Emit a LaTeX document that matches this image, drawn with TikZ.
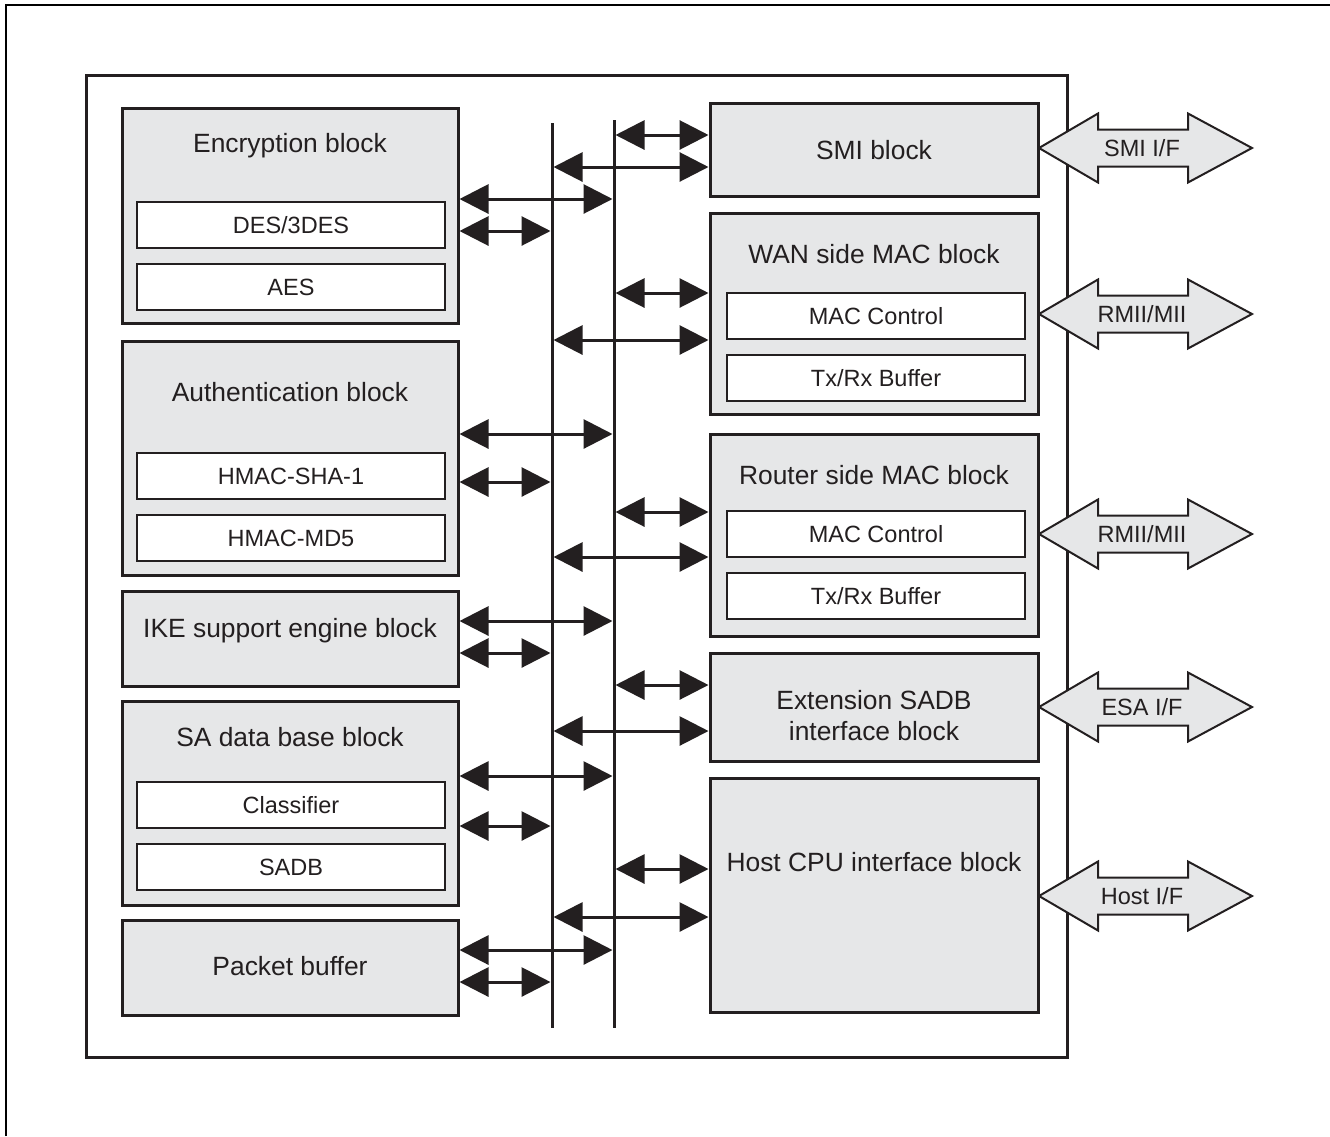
\documentclass[tikz,border=0pt]{standalone}
\usepackage{fontspec}
\setmainfont{Liberation Sans}
\usetikzlibrary{arrows.meta}
\definecolor{blockgray}{RGB}{230,231,232}
\definecolor{inkblack}{RGB}{35,31,32}
\tikzset{
    block/.style={
        draw=inkblack,
        line width=3pt,
        fill=blockgray,
        anchor=north west,
        inner sep=0pt,
        xshift=-1.5pt, yshift=1.5pt,
        minimum width=336pt
    },
    rblock/.style={block, minimum width=328pt},
    % sub-blocks inside the big blocks
    subblock/.style={
        draw=inkblack,
        line width=2.6pt,
        fill=white,
        anchor=north west,
        inner sep=0pt,
        xshift=-1.3pt, yshift=1.3pt,
        minimum width=308pt,
        minimum height=46pt,
        text=inkblack,
        font=\fontsize{23.5}{27}\selectfont
    },
    rsubblock/.style={subblock, minimum width=298pt},
    title/.style={
        text=inkblack,
        align=center,
        inner sep=0pt,
        font=\fontsize{26.4}{31}\selectfont
    },
    busarrow/.style={
        line width=3pt,
        inkblack,
        {Triangle[length=29pt, width=29pt]}-{Triangle[length=29pt, width=29pt]}
    },
    ifarrow/.style={
        draw=inkblack,
        line width=2pt,
        fill=blockgray,
        line join=miter
    },
    iflabel/.style={
        text=inkblack,
        inner sep=0pt,
        font=\fontsize{23.5}{27}\selectfont
    }
}
\begin{document}
\begin{tikzpicture}[x=1pt,y=-1pt]
\useasboundingbox (0,0) rectangle (1330,1136);

% page frame
\draw[line width=2pt,black] (6,1136) -- (6,5) -- (1330,5);

% chip outline
\draw[line width=3pt,inkblack] (86,75) rectangle (1067,1057);

% left blocks
\node[block, minimum height=215pt] (enc) at (122,108) {};
\node[block, minimum height=234pt] (auth) at (122,341) {};
\node[block, minimum height=95pt] (ike) at (122,591) {};
\node[block, minimum height=204pt] (sadb) at (122,701) {};
\node[block, minimum height=95pt] (pbuf) at (122,920) {};

\node[title] (encT) at (enc.north |- 0,146) {Encryption block};
\node[title] (authT) at (auth.north |- 0,392) {Authentication block};
\node[title] (ikeT) at (ike.north |- 0,631) {IKE support engine block};
\node[title] (sadbT) at (sadb.north |- 0,737) {SA data base block};
\node[title] (pbufT) at (pbuf.north |- 0,966) {Packet buffer};

\node[subblock] (des) at (137,202) {DES/3DES};
\node[subblock] (aes) at (137,264) {AES};
\node[subblock] (sha) at (137,453) {HMAC-SHA-1};
\node[subblock] (md5) at (137,515) {HMAC-MD5};
\node[subblock] (cls) at (137,782) {Classifier};
\node[subblock] (sadbsub) at (137,844) {SADB};

% right blocks
\node[rblock, minimum height=93pt] (smi) at (710,103) {};
\node[rblock, minimum height=201pt] (wan) at (710,213) {};
\node[rblock, minimum height=202pt] (rtr) at (710,434) {};
\node[rblock, minimum height=108pt] (ext) at (710,653) {};
\node[rblock, minimum height=234pt] (host) at (710,778) {};

\node[title] (smiT) at (smi.north |- 0,150) {SMI block};
\node[title] (wanT) at (wan.north |- 0,254) {WAN side MAC block};
\node[title] (rtrT) at (rtr.north |- 0,475) {Router side MAC block};
\node[title] (extT) at (ext.north |- 0,716) {Extension SADB\\interface block};
\node[title] (hostT) at (host.north |- 0,862) {Host CPU interface block};

\node[rsubblock] (wanmac) at (727,293) {MAC Control};
\node[rsubblock] (wanbuf) at (727,355) {Tx/Rx Buffer};
\node[rsubblock] (rtrmac) at (727,511) {MAC Control};
\node[rsubblock] (rtrbuf) at (727,573) {Tx/Rx Buffer};

% internal buses
\coordinate (busAtop) at (552,123);
\coordinate (busAbot) at (552,1028);
\coordinate (busBtop) at (614,120);
\coordinate (busBbot) at (614,1028);
\draw[line width=3pt,inkblack] (busAtop) -- (busAbot);
\draw[line width=3pt,inkblack] (busBtop) -- (busBbot);

% left blocks to buses
\foreach \blk/\ylong/\yshort in {enc/199/231, auth/434/482, ike/621/653, sadb/776/826, pbuf/950/982}{
    \draw[busarrow, shorten >=1.5pt] (\blk.east |- 0,\ylong) -- (busBtop |- 0,\ylong);
    \draw[busarrow, shorten >=1.5pt] (\blk.east |- 0,\yshort) -- (busAtop |- 0,\yshort);
}

% buses to right blocks
\foreach \blk/\yshort/\ylong in {smi/135/167, wan/293/340, rtr/512/557, ext/685/731, host/869/917}{
    \draw[busarrow, shorten <=1.5pt] (busBtop |- 0,\yshort) -- (\blk.west |- 0,\yshort);
    \draw[busarrow, shorten <=1.5pt] (busAtop |- 0,\ylong) -- (\blk.west |- 0,\ylong);
}

% external interfaces
\foreach \y/\name/\txt in {148/smiif/{SMI I/F}, 314/wanif/{RMII/MII}, 534/rtrif/{RMII/MII}, 707/esaif/{ESA I/F}, 896/hostif/{Host I/F}}{
    \draw[ifarrow] (1039,\y) -- (1098,\y-34.5) -- (1098,\y-18.5) -- (1188,\y-18.5)
        -- (1188,\y-34.5) -- (1252,\y) -- (1188,\y+34.5) -- (1188,\y+18.5)
        -- (1098,\y+18.5) -- (1098,\y+34.5) -- cycle;
    \node[iflabel] (\name) at (1142,\y) {\txt};
}
\end{tikzpicture}
\end{document}
